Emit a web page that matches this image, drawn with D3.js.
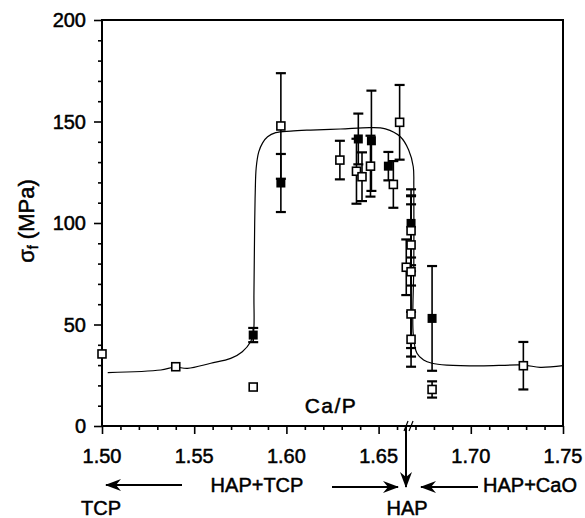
<!DOCTYPE html>
<html>
<head>
<meta charset="utf-8">
<script src="https://cdn.jsdelivr.net/npm/d3@7"></script>
<style>
  body { margin: 0; background: #fff; }
  svg text { font-family: "Liberation Sans", Arial, sans-serif; fill: #000; stroke: #000; stroke-width: 0.5px; }
</style>
</head>
<body>
<div id="chart"></div>
<script>
// Open squares: Ca/P ratio, strength (MPa), error bar half length
const openCaP = [1.500, 1.540, 1.582, 1.597, 1.629, 1.638, 1.641, 1.6456, 1.658, 1.6614, 1.6676, 1.6676, 1.665, 1.6676, 1.6676, 1.6676, 1.679, 1.7285]
const openSigma = [35.5, 29.2, 19.2, 147.8, 131, 125.5, 122.8, 128, 119, 149.6, 96.2, 89.2, 78.2, 76, 55.2, 42.7, 18, 29.7]
const openErr = [0, 0, 0, 26, 9.5, 16, 12, 15, 11.5, 18.4, 17, 20, 13.7, 37.6, 21, 13.5, 4, 11.7]

// Filled squares
const filledCaP = [1.582, 1.597, 1.639, 1.6461, 1.6553, 1.6676, 1.679]
const filledSigma = [44.8, 119.7, 141.4, 140.5, 128, 99.8, 53]
const filledErr = [3.5, 14.3, 12.5, 24.7, 7, 16.8, 25.8]

// Fitted curve drawn through the data
const curveCaP = [1.5031, 1.5319, 1.5395, 1.5464, 1.5590, 1.5698, 1.5761, 1.5806, 1.5821, 1.5824, 1.5828, 1.5831, 1.5836, 1.5850, 1.5871, 1.5898, 1.5942, 1.6023, 1.6131, 1.6293, 1.6456, 1.6537, 1.6618, 1.6663, 1.6688, 1.6691, 1.6691, 1.6688, 1.6708, 1.6744, 1.6790, 1.6871, 1.7051, 1.7285, 1.7376, 1.75]
const curveSigma = [26.3, 27.6, 29.0, 28.4, 30.9, 33.3, 36.6, 41.5, 45.5, 65, 100, 115, 127, 135, 139.5, 142.5, 144.5, 145.3, 145.8, 146.3, 147, 146.4, 142.5, 136, 127.7, 118, 80, 45, 35.8, 32.5, 30.9, 30, 29.6, 30, 28.9, 29.7]

// Tick labels
const xTicks = [1.50, 1.55, 1.60, 1.65, 1.70, 1.75]
const yTicks = [0, 50, 100, 150, 200]

const width = 585
const height = 518

const svg = d3.select("#chart")
  .append("svg")
  .attr("width", width)
  .attr("height", height)

// Scales
const xScale = d3.scaleLinear().domain([1.5, 1.75]).range([102, 563])
const yScale = d3.scaleLinear().domain([0, 200]).range([426, 20])

// Arrow head marker
svg.append("defs").append("marker")
  .attr("id", "arrow")
  .attr("viewBox", "0 0 16 12")
  .attr("refX", 15)
  .attr("refY", 6)
  .attr("markerWidth", 16)
  .attr("markerHeight", 12)
  .attr("markerUnits", "userSpaceOnUse")
  .attr("orient", "auto")
  .append("path")
  .attr("d", "M0,0 L16,6 L0,12 L5,6 Z")
  .attr("fill", "#000")

// Axes: only the tick marks, the frame is drawn below
const yAxis = d3.axisLeft(yScale)
  .tickValues(d3.range(0, 201, 10))
  .tickSize(0)
  .tickFormat("")
const yg = svg.append("g").attr("transform", `translate(${xScale(1.5)},0)`).call(yAxis)
yg.select(".domain").remove()
yg.selectAll(".tick line")
  .attr("x2", d => d % 50 === 0 ? -8 : -4)
  .attr("stroke", "#000")
  .attr("stroke-width", 1.6)

const xAxis = d3.axisBottom(xScale)
  .tickValues(d3.range(0, 26).map(i => 1.5 + i * 0.01))
  .tickSize(0)
  .tickFormat("")
const xg = svg.append("g").attr("transform", `translate(0,${yScale(0)})`).call(xAxis)
xg.select(".domain").remove()
xg.selectAll(".tick line")
  .attr("y2", (d, i) => i % 5 === 0 ? 8 : 4)
  .attr("stroke", "#000")
  .attr("stroke-width", 1.6)

// Frame
svg.append("rect")
  .attr("x", xScale(1.5))
  .attr("y", yScale(200))
  .attr("width", xScale(1.75) - xScale(1.5))
  .attr("height", yScale(0) - yScale(200))
  .attr("fill", "none")
  .attr("stroke", "#000")
  .attr("stroke-width", 2)

// Tick labels
svg.selectAll(".ylab")
  .data(yTicks)
  .enter()
  .append("text")
  .attr("class", "ylab")
  .attr("x", 86)
  .attr("y", d => yScale(d) + 7)
  .attr("text-anchor", "end")
  .attr("font-size", 20)
  .text(d => d)

svg.selectAll(".xlab")
  .data(xTicks)
  .enter()
  .append("text")
  .attr("class", "xlab")
  .attr("x", d => xScale(d))
  .attr("y", 463)
  .attr("text-anchor", "middle")
  .attr("font-size", 20)
  .text(d => d.toFixed(2))

// Axis break mark
const bx = xScale(1.6665)
svg.append("path")
  .attr("d", `M${bx - 5},${yScale(0) + 5} L${bx - 1},${yScale(0) - 5} M${bx},${yScale(0) + 5} L${bx + 4},${yScale(0) - 5}`)
  .attr("stroke", "#000")
  .attr("stroke-width", 1.2)

// Fitted curve
const line = d3.line()
  .x((d, i) => xScale(curveCaP[i]))
  .y(d => yScale(d))
  .curve(d3.curveCatmullRom.alpha(0.5))

svg.append("path")
  .attr("d", line(curveSigma))
  .attr("fill", "none")
  .attr("stroke", "#000")
  .attr("stroke-width", 1.2)

// Error bars
function drawErrors(cap, sig, err) {
  const g = svg.append("g").attr("stroke", "#000").attr("stroke-width", 1.6)
  sig.forEach((s, i) => {
    if (err[i] === 0) return
    const x = xScale(cap[i])
    const y1 = yScale(s + err[i])
    const y2 = yScale(s - err[i])
    g.append("line").attr("x1", x).attr("x2", x).attr("y1", y1).attr("y2", y2)
    g.append("line").attr("x1", x - 5).attr("x2", x + 5).attr("y1", y1).attr("y2", y1).attr("stroke-width", 2.2)
    g.append("line").attr("x1", x - 5).attr("x2", x + 5).attr("y1", y2).attr("y2", y2).attr("stroke-width", 2.2)
  })
}
drawErrors(filledCaP, filledSigma, filledErr)
drawErrors(openCaP, openSigma, openErr)

// Squares
const size = 9
svg.selectAll(".filled")
  .data(filledSigma)
  .enter()
  .append("rect")
  .attr("class", "filled")
  .attr("x", (d, i) => xScale(filledCaP[i]) - size / 2)
  .attr("y", d => yScale(d) - size / 2)
  .attr("width", size)
  .attr("height", size)
  .attr("fill", "#000")

svg.selectAll(".open")
  .data(openSigma)
  .enter()
  .append("rect")
  .attr("class", "open")
  .attr("x", (d, i) => xScale(openCaP[i]) - (size - 1) / 2)
  .attr("y", d => yScale(d) - (size - 1) / 2)
  .attr("width", size - 1)
  .attr("height", size - 1)
  .attr("fill", "#fff")
  .attr("stroke", "#000")
  .attr("stroke-width", 1.6)

// Axis titles
svg.append("text")
  .attr("x", 331)
  .attr("y", 413)
  .attr("text-anchor", "middle")
  .attr("font-size", 21)
  .attr("letter-spacing", 1.5)
  .text("Ca/P")

const yTitle = svg.append("text")
  .attr("transform", "translate(34,221) rotate(-90)")
  .attr("text-anchor", "middle")
  .attr("font-size", 22)
yTitle.append("tspan").text("σ")
yTitle.append("tspan").attr("font-size", 14).attr("dy", 4).text("f")
yTitle.append("tspan").attr("dy", -4).text(" (MPa)")

// Phase annotations below the axis
const phases = [
  { t: "TCP", x: 101, y: 515 },
  { t: "HAP+TCP", x: 257, y: 492 },
  { t: "HAP", x: 407, y: 515 },
  { t: "HAP+CaO", x: 530, y: 492 }
]
svg.selectAll(".phase")
  .data(phases)
  .enter()
  .append("text")
  .attr("class", "phase")
  .attr("x", d => d.x)
  .attr("y", d => d.y)
  .attr("text-anchor", "middle")
  .attr("font-size", 20)
  .text(d => d.t)

const arrows = [
  [182, 485, 106, 485],
  [332, 487, 398, 487],
  [478, 487, 421, 487],
  [406, 426, 406, 487]
]
svg.selectAll(".arrow")
  .data(arrows)
  .enter()
  .append("line")
  .attr("x1", d => d[0])
  .attr("y1", d => d[1])
  .attr("x2", d => d[2])
  .attr("y2", d => d[3])
  .attr("stroke", "#000")
  .attr("stroke-width", 2)
  .attr("marker-end", "url(#arrow)")
</script>
</body>
</html>
